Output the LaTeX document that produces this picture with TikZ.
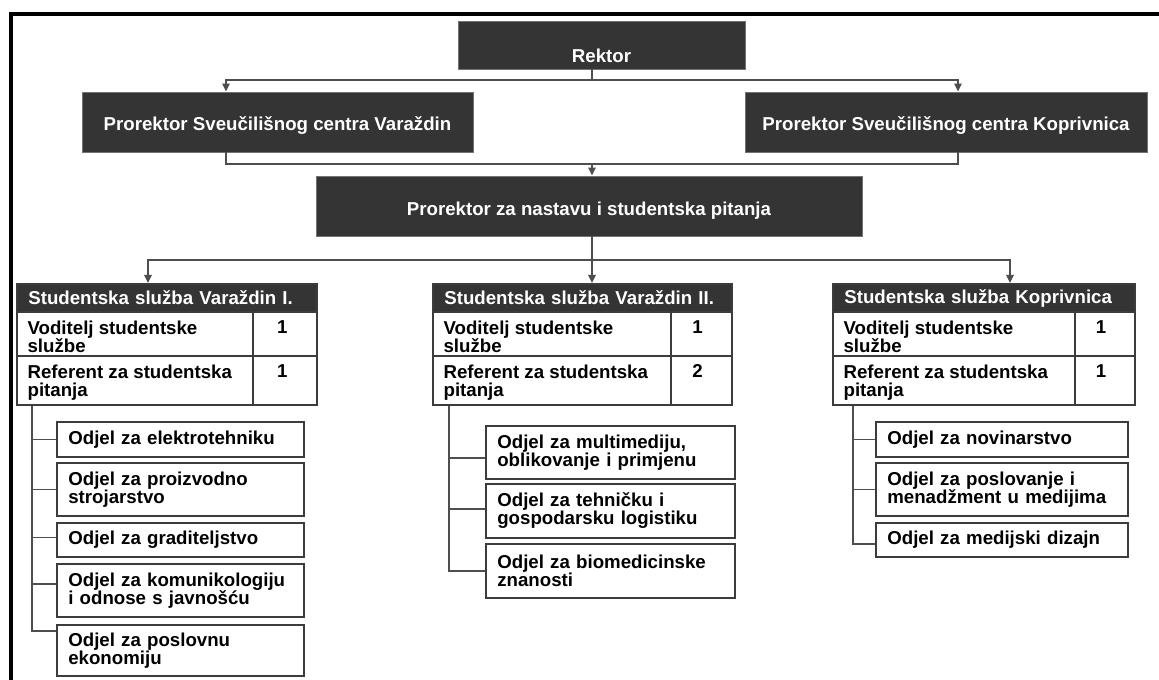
\documentclass[tikz,border=0pt]{standalone}
\usepackage{fontspec}
\setmainfont{Liberation Sans}
\usetikzlibrary{arrows.meta}
\definecolor{boxdark}{RGB}{52,52,52}
\definecolor{edge}{RGB}{60,60,60}
\definecolor{wire}{RGB}{78,78,78}
\newcommand\mkbox[7]{%
  \pgfmathsetmacro\mbw{(#4-#2)*0.75}%
  \pgfmathsetmacro\mbh{(#5-#3)*0.75}%
  \pgfmathsetmacro\mbt{(#4-#2)*0.75-17}%
  \node[#6, minimum width=\mbw pt, minimum height=\mbh pt] (#1) at ({(#2+#4)/2},{(#3+#5)/2}) {#7};}
\tikzset{
  txt/.style={font=\fontsize{14pt}{13.5pt}\selectfont\bfseries},
  darkbox/.style={draw=black!55, line width=0.6pt, fill=boxdark, inner sep=0pt},
  wt/.style={txt, text=white, inner sep=0pt},
  cell/.style={draw=edge, line width=1.5pt, fill=white, inner sep=0pt},
  hdr/.style={txt, draw=edge, line width=1.5pt, fill=boxdark, text=white, inner xsep=8.5pt, inner ysep=0pt, align=left, text width=\mbt pt},
  odjel/.style={txt, draw=edge, line width=1.5pt, fill=white, inner xsep=8.5pt, inner ysep=0pt, align=left, text width=\mbt pt},
  ct/.style={txt, inner sep=0pt, align=left, anchor=north west},
  num/.style={txt, inner sep=0pt, anchor=north},
  conn/.style={draw=wire, line width=1.2pt},
  arr/.style={conn, -{Triangle[width=5.5pt,length=6pt]}},
}
\begin{document}
\begin{tikzpicture}[x=0.75pt,y=-0.75pt]
\useasboundingbox (0,0) rectangle (1159,680);
% outer frame
\draw[line width=3pt, line join=miter] (11,680) -- (11,14) -- (1160,14);

% top hierarchy
\mkbox{rektor}{458}{21}{745}{69}{darkbox}{}
\node[wt] (rektorT) at ([yshift=-8pt]rektor.center) {Rektor};
\mkbox{pv}{82}{92}{473}{152}{darkbox}{}
\node[wt] (pvT) at ([yshift=-3pt]pv.center) {Prorektor Sveučilišnog centra Varaždin};
\mkbox{pk}{745}{92}{1147}{152}{darkbox}{}
\node[wt] (pkT) at ([yshift=-3pt]pk.center) {Prorektor Sveučilišnog centra Koprivnica};
\mkbox{pn}{316}{176}{862}{236}{darkbox}{}
\node[wt] (pnT) at ([yshift=-3.75pt]pn.center) {Prorektor za nastavu i studentska pitanja};

\coordinate (j1) at (592,80);
\coordinate (xv) at (226,0);
\coordinate (xk) at (958,0);
\coordinate (j2) at (592,164);
\coordinate (j3) at (592,260);
\coordinate (xa) at (148,0);
\coordinate (xc) at (1010,0);

\draw[conn] (rektor.south -| j1) -- (j1);
\draw[arr] (j1) -| (pv.north -| xv);
\draw[arr] (j1) -| (pk.north -| xk);
\draw[conn] (pv.south -| xv) |- (j2);
\draw[conn] (pk.south -| xk) |- (j2);
\draw[arr] (j2) -- (pn.north -| j2);

% tables
\mkbox{h1}{17}{284}{317}{312}{hdr}{Studentska služba Varaždin I.}
\mkbox{r11}{17}{312}{253}{356}{cell}{}
\mkbox{n11}{253}{312}{317}{356}{cell}{}
\mkbox{r12}{17}{356}{253}{405}{cell}{}
\mkbox{n12}{253}{356}{317}{405}{cell}{}
\node[ct] (r11t) at ([xshift=8.5pt,yshift=-7pt]r11.north west) {Voditelj studentske\\službe};
\node[ct] (r12t) at ([xshift=8.5pt,yshift=-7pt]r12.north west) {Referent za studentska\\pitanja};
\node[num] (n11t) at ([xshift=-2pt,yshift=-7pt]n11.north) {1};
\node[num] (n12t) at ([xshift=-2pt,yshift=-7pt]n12.north) {1};

\mkbox{h2}{433}{284}{732}{312}{hdr}{Studentska služba Varaždin II.}
\mkbox{r21}{433}{312}{671}{356}{cell}{}
\mkbox{n21}{671}{312}{732}{356}{cell}{}
\mkbox{r22}{433}{356}{671}{405}{cell}{}
\mkbox{n22}{671}{356}{732}{405}{cell}{}
\node[ct] (r21t) at ([xshift=8.5pt,yshift=-7pt]r21.north west) {Voditelj studentske\\službe};
\node[ct] (r22t) at ([xshift=8.5pt,yshift=-7pt]r22.north west) {Referent za studentska\\pitanja};
\node[num] (n21t) at ([xshift=-3pt,yshift=-7pt]n21.north) {1};
\node[num] (n22t) at ([xshift=-3pt,yshift=-7pt]n22.north) {2};

\mkbox{h3}{833}{284}{1135}{312}{hdr}{Studentska služba Koprivnica}
\mkbox{r31}{833}{312}{1075}{356}{cell}{}
\mkbox{n31}{1075}{312}{1135}{356}{cell}{}
\mkbox{r32}{833}{356}{1075}{405}{cell}{}
\mkbox{n32}{1075}{356}{1135}{405}{cell}{}
\node[ct] (r31t) at ([xshift=8.5pt,yshift=-7pt]r31.north west) {Voditelj studentske\\službe};
\node[ct] (r32t) at ([xshift=8.5pt,yshift=-7pt]r32.north west) {Referent za studentska\\pitanja};
\node[num] (n31t) at ([xshift=-3pt,yshift=-7pt]n31.north) {1};
\node[num] (n32t) at ([xshift=-3pt,yshift=-7pt]n32.north) {1};

\draw[conn] (pn.south -| j3) -- (j3);
\draw[arr] (j3) -| (h1.north -| xa);
\draw[arr] (j3) -- (h2.north -| j3);
\draw[arr] (j3) -| (h3.north -| xc);

% departments
\mkbox{o11}{57}{422}{304}{457}{odjel}{Odjel za elektrotehniku}
\mkbox{o12}{57}{463}{304}{516}{odjel}{Odjel za proizvodno\\strojarstvo}
\mkbox{o13}{57}{523}{304}{557}{odjel}{Odjel za graditeljstvo}
\mkbox{o14}{57}{564}{304}{617}{odjel}{Odjel za komunikologiju\\i odnose s javnošću}
\mkbox{o15}{57}{625}{304}{676}{odjel}{Odjel za poslovnu\\ekonomiju}

\mkbox{o21}{486}{426}{735}{479}{odjel}{Odjel za multimediju,\\oblikovanje i primjenu}
\mkbox{o22}{486}{484}{735}{538}{odjel}{Odjel za tehničku i\\gospodarsku logistiku}
\mkbox{o23}{486}{544}{735}{598}{odjel}{Odjel za biomedicinske\\znanosti}

\mkbox{o31}{876}{422}{1128}{457}{odjel}{Odjel za novinarstvo}
\mkbox{o32}{876}{463}{1128}{516}{odjel}{Odjel za poslovanje i\\menadžment u medijima}
\mkbox{o33}{876}{523}{1128}{557}{odjel}{Odjel za medijski dizajn}

\coordinate (k1) at (32,0);
\coordinate (k2) at (449,0);
\coordinate (k3) at (853,0);
\draw[conn] (r12.south -| k1) |- (o11.west);
\draw[conn] (r12.south -| k1) |- (o12.west);
\draw[conn] (r12.south -| k1) |- ([yshift=2pt]o13.west);
\draw[conn] (r12.south -| k1) |- ([yshift=5pt]o14.west);
\draw[conn] (r12.south -| k1) |- ([yshift=14.5pt]o15.west);

\draw[conn] (r22.south -| k2) |- ([yshift=-4pt]o21.west);
\draw[conn] (r22.south -| k2) |- ([yshift=1.5pt]o22.west);
\draw[conn] (r22.south -| k2) |- (o23.west);

\draw[conn] (r32.south -| k3) |- (o31.west);
\draw[conn] (r32.south -| k3) |- (o32.west);
\draw[conn] (r32.south -| k3) |- ([yshift=-3pt]o33.west);
\end{tikzpicture}
\end{document}
